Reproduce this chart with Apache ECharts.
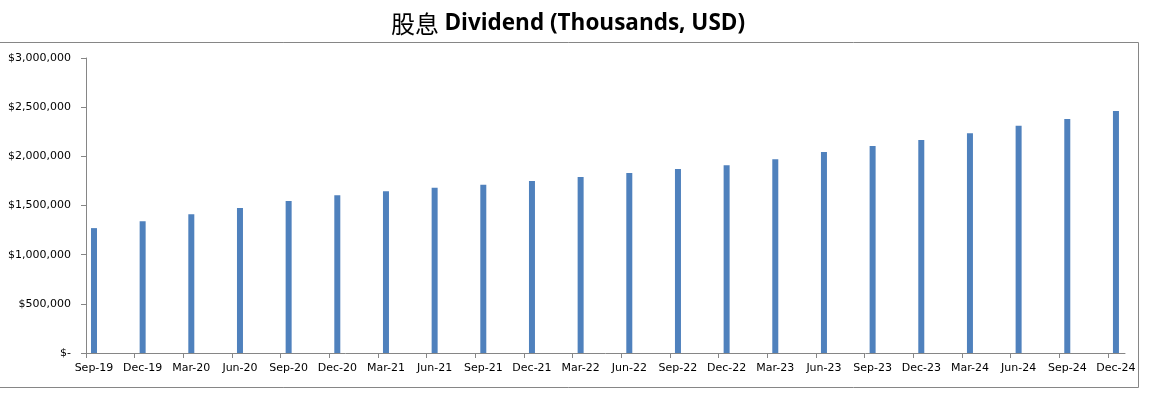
<!DOCTYPE html>
<html>
<head>
<meta charset="utf-8">
<script src="https://cdn.jsdelivr.net/npm/echarts@6/dist/echarts.min.js"></script>
<style>
  html, body { margin: 0; padding: 0; background: #fff; }
  #chart { width: 1151px; height: 397px; }
</style>
</head>
<body>
<div id="chart"></div>
<script>
// quarter labels, Sep-19 .. Dec-24
const quarters = [
  "Sep-19", "Dec-19", "Mar-20", "Jun-20", "Sep-20", "Dec-20",
  "Mar-21", "Jun-21", "Sep-21", "Dec-21", "Mar-22", "Jun-22",
  "Sep-22", "Dec-22", "Mar-23", "Jun-23", "Sep-23", "Dec-23",
  "Mar-24", "Jun-24", "Sep-24", "Dec-24"
];
// dividend, thousands USD
const dividend = [
  1270000, 1340000, 1410000, 1475000, 1545000, 1605000,
  1645000, 1680000, 1710000, 1750000, 1790000, 1830000,
  1870000, 1910000, 1970000, 2045000, 2105000, 2165000,
  2235000, 2310000, 2380000, 2460000
];

// Excel-style date axis: ticks at quarter start, bar sits a bit to the right
const barShift = 0.164;
const axisEnd = 21.35;

const chart = echarts.init(document.getElementById("chart"));

const labelFont = { fontFamily: "DejaVu Sans", fontSize: 11, color: "#000" };
const axisGray = "#868686";

const option = {
  animation: false,
  backgroundColor: "#fff",
  title: {
    text: "{cn|股息 }{en|Dividend (Thousands, USD)}",
    left: 386,
    top: 7,
    textStyle: {
      rich: {
        cn: { fontFamily: "Noto Sans CJK SC", fontSize: 24, fontWeight: "normal", color: "#000" },
        en: { fontFamily: "Open Sans", fontSize: 22.5, fontWeight: "bold", color: "#000" },
      },
    },
  },
  graphic: [
    {
      type: "rect",
      shape: { x: -1, y: 42.5, width: 1139.5, height: 345 },
      style: { fill: "none", stroke: axisGray, lineWidth: 1 },
      silent: true,
    },
  ],
  grid: { left: 86, right: 26, top: 58, bottom: 44 },
  xAxis: {
    type: "value",
    min: 0,
    max: axisEnd,
    splitLine: { show: false },
    axisLine: { show: true, lineStyle: { color: axisGray, width: 1 } },
    axisTick: {
      show: true,
      length: 5,
      lineStyle: { color: axisGray },
      customValues: quarters.map((_, i) => i),
    },
    axisLabel: {
      ...labelFont,
      margin: 10,
      customValues: quarters.map((_, i) => i + barShift),
      formatter: (v) => quarters[Math.round(v - barShift)] || "",
    },
  },
  yAxis: {
    type: "value",
    min: 0,
    max: 3000000,
    interval: 500000,
    splitLine: { show: false },
    axisLine: { show: true, lineStyle: { color: axisGray, width: 1 } },
    axisTick: { show: true, length: 5, lineStyle: { color: axisGray } },
    axisLabel: {
      ...labelFont,
      margin: 15,
      formatter: (v) => (v === 0 ? "$-" : "$" + v.toLocaleString("en-US")),
    },
  },
  series: [
    {
      name: "Dividend",
      type: "bar",
      barWidth: 6,
      itemStyle: { color: "#4F81BD" },
      data: dividend.map((v, i) => [i + barShift, v]),
    },
  ],
};

chart.setOption(option);
</script>
</body>
</html>
